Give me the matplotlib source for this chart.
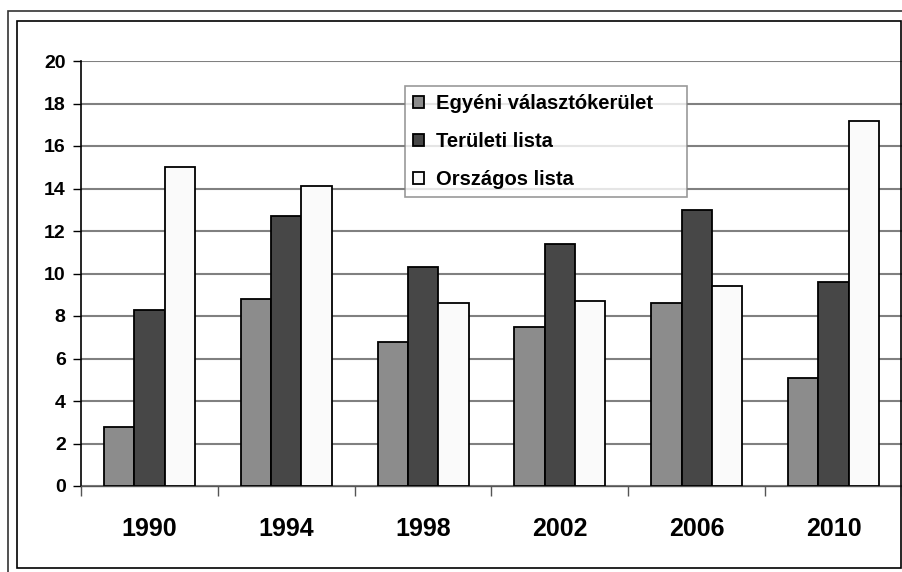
import numpy as np
import matplotlib.pyplot as plt
from matplotlib.patches import Rectangle

years = ["1990", "1994", "1998", "2002", "2006", "2010"]
egyeni = [2.8, 8.8, 6.8, 7.5, 8.6, 5.1]
teruleti = [8.3, 12.7, 10.3, 11.4, 13.0, 9.6]
orszagos = [15.0, 14.1, 8.6, 8.7, 9.4, 17.2]
labels = ["Egyéni választókerület", "Területi lista", "Országos lista"]
colors = ["#8c8c8c", "#474747", "#fafafa"]

plt.rcParams['font.family'] = ['Liberation Sans', 'DejaVu Sans']
plt.rcParams['font.weight'] = 'bold'

fig = plt.figure(figsize=(9.03, 5.72), dpi=100)
W, H = 903.0, 572.0

# outer and inner frames
fig.patches.append(Rectangle((7.5 / W, -0.05), 1.0, (572 - 10.5) / H + 0.05,
                             transform=fig.transFigure, fill=False,
                             edgecolor="#333333", linewidth=1.2))
fig.patches.append(Rectangle((17.5 / W, (572 - 568) / H), (901 - 17.5) / W,
                             (568 - 20.5) / H, transform=fig.transFigure,
                             fill=False, edgecolor="black", linewidth=1.2))

ax = fig.add_axes([81 / W, (572 - 486) / H, (902 - 81) / W, (486 - 61) / H])

x = np.arange(len(years))
w = 0.222
for i, (vals, c, lab) in enumerate(zip([egyeni, teruleti, orszagos], colors, labels)):
    ax.bar(x + (i - 1) * w, vals, width=w, color=c, edgecolor="black",
           linewidth=1.3, label=lab, zorder=3)

ax.set_xlim(-0.5, 5.5)
ax.set_ylim(0, 20)
ax.set_yticks(range(0, 21, 2))
ax.set_yticklabels([str(v) for v in range(0, 21, 2)], fontsize=14, fontweight='bold')
ax.set_xticks(x)
ax.set_xticklabels(years, fontsize=18, fontweight='bold')
ax.set_xticks(np.arange(-0.5, 5.6, 1), minor=True)
ax.tick_params(axis='x', which='major', length=0, pad=22)
ax.tick_params(axis='x', which='minor', length=7, width=1, color="#555555")
ax.tick_params(axis='y', length=6, width=1, pad=5)

ax.grid(axis='y', color="#808080", linewidth=1.5, zorder=0)
ax.set_axisbelow(True)
for s in ['top', 'right']:
    ax.spines[s].set_visible(False)
ax.spines['left'].set_linewidth(1.2)
ax.spines['bottom'].set_linewidth(1.0)
ax.spines['bottom'].set_color("#555555")

# legend box spans x 405..687 px, top at y 86 px
lx0 = (405 - 81) / (902 - 81)
lw = (687 - 405) / (902 - 81)
ly = (486 - 86) / (486 - 61)
leg = ax.legend(loc='upper left', bbox_to_anchor=(lx0, ly, lw, 0), mode='expand',
                fontsize=14.5, frameon=True, fancybox=False, borderpad=0.4,
                handlelength=0.55, handleheight=0.55, handletextpad=0.6,
                labelspacing=0.95, borderaxespad=0)
leg.get_frame().set_edgecolor("#808080")
leg.get_frame().set_linewidth(1.2)
for t in leg.get_texts():
    t.set_fontweight('bold')

fig.savefig("out.png", dpi=100)
